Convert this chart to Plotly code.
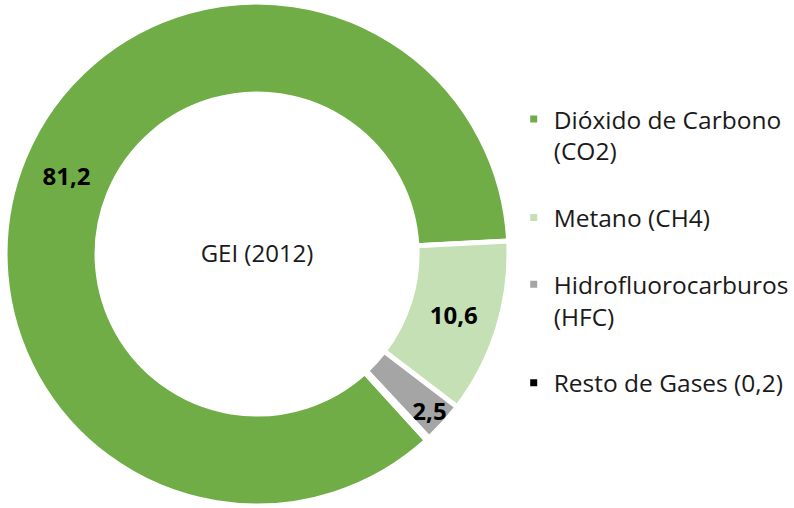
import plotly.graph_objects as go

labels = ["Dióxido de Carbono<br>(CO2)", "Metano (CH4)", "Hidrofluorocarburos<br>(HFC)", "Resto de Gases (0,2)"]
values = [81.2, 10.6, 2.5, 0.2]
colors = ["#70AD47", "#C5E0B4", "#A5A5A5", "#000000"]
show_label = [True, True, True, False]
center_title = "GEI (2012)"

# blank lines appended to legend entries to mimic the reference's item spacing
legend_pad = [1, 1, 1, 0]
legend_labels = [l + "<br> " * p for l, p in zip(labels, legend_pad)]
templates = ["<b>%{value:.1f}</b>" if s else "" for s in show_label]

fig = go.Figure(go.Pie(
    labels=legend_labels,
    values=values,
    sort=False,
    direction="clockwise",
    rotation=137.7,
    hole=0.635,
    marker=dict(colors=colors, line=dict(color="white", width=5)),
    texttemplate=templates,
    textposition="inside",
    insidetextorientation="horizontal",
    textfont=dict(family="Open Sans", size=24, color="black"),
    title=dict(text=center_title, position="middle center",
               font=dict(family="Open Sans", size=24, color="#1a1a1a")),
    domain=dict(x=[0, 526 / 794], y=[0.004, 0.996]),
    showlegend=True,
))

fig.update_layout(
    width=794, height=508,
    margin=dict(l=0, r=0, t=0, b=0),
    paper_bgcolor="white",
    separators=",.",
    uniformtext=dict(minsize=24, mode="show"),
    legend=dict(
        x=0.662, xanchor="left", y=0.81, yanchor="top",
        font=dict(family="Open Sans", size=24.5, color="#1a1a1a"),
        valign="top", bgcolor="rgba(0,0,0,0)",
    ),
)

fig.write_html("out.html", config={"displayModeBar": False},
               post_script="document.body.style.margin='0';")
